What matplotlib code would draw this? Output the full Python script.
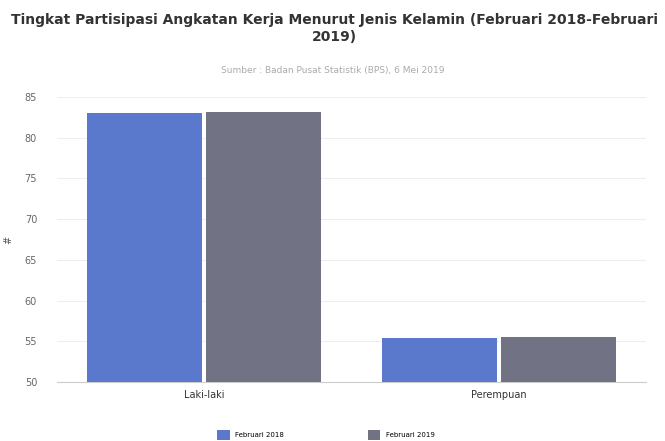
import matplotlib.pyplot as plt
import numpy as np

# Datos del gráfico
categorias = ["Laki-laki", "Perempuan"]
series = ["Februari 2018", "Februari 2019"]
feb_2018 = [83.01, 55.44]
feb_2019 = [83.18, 55.50]
colores = ["#5b79cc", "#727285"]

fig = plt.figure(figsize=(6.65, 4.41), dpi=100)
ax = fig.add_axes([0.085, 0.134, 0.887, 0.646])

x = np.arange(len(categorias))
ancho = 0.39
hueco = 0.007
ax.bar(x - ancho / 2 - hueco, feb_2018, width=ancho, color=colores[0], label=series[0], zorder=3)
ax.bar(x + ancho / 2 + hueco, feb_2019, width=ancho, color=colores[1], label=series[1], zorder=3)

ax.set_xlim(-0.5, 1.5)
ax.set_ylim(50, 85)
ax.set_yticks(range(50, 86, 5))
ax.set_xticks(x)
ax.set_xticklabels(categorias, fontsize=7, color="#333333")
ax.tick_params(axis="y", labelsize=7, colors="#666666", length=0, pad=14)
ax.tick_params(axis="x", length=0, pad=6)
ax.grid(axis="y", color="#eeeeee", linewidth=0.8, zorder=0)
for lado in ["top", "right", "left"]:
    ax.spines[lado].set_visible(False)
ax.spines["bottom"].set_color("#cccccc")
ax.set_ylabel("#", fontsize=7, color="#555555", labelpad=8)

fig.text(0.503, 0.935, "Tingkat Partisipasi Angkatan Kerja Menurut Jenis Kelamin (Februari 2018-Februari\n2019)",
         ha="center", va="center", fontsize=10, fontweight="semibold", color="#333333", linespacing=1.3)
fig.text(0.5, 0.84, "Sumber : Badan Pusat Statistik (BPS), 6 Mei 2019",
         ha="center", va="center", fontsize=6.5, color="#aaaaaa")

fig.legend(loc="lower center", bbox_to_anchor=(0.49, -0.012), ncol=2, frameon=False,
           fontsize=5, handlelength=1.8, handleheight=1.8, columnspacing=12)

fig.savefig("out.png", dpi=100)
